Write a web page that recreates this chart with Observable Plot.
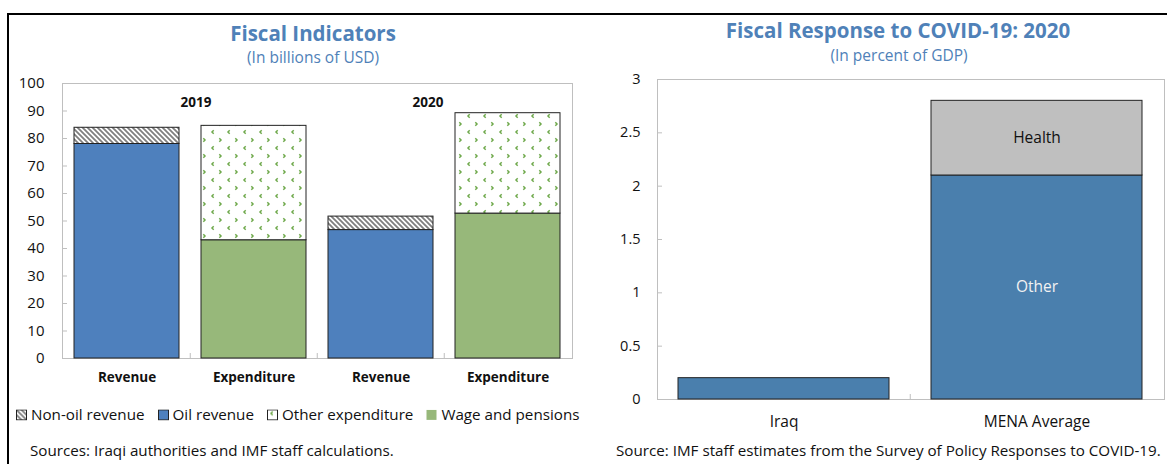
<!DOCTYPE html>
<html>
<head>
<meta charset="utf-8">
<script src="https://cdn.jsdelivr.net/npm/d3@7"></script>
<script src="https://cdn.jsdelivr.net/npm/@observablehq/plot@0.6"></script>
<style>
  body { margin: 0; background: #fff; font-family: "Open Sans", sans-serif; }
  #root { position: relative; width: 1167px; height: 464px; overflow: hidden; background: #fff; }
  .abs { position: absolute; }
  .c { transform: translate(-50%, -50%); white-space: nowrap; line-height: 1; }
  .title { font-weight: 700; color: #4f81b8; font-size: 20.5px; }
  .sub { color: #4f81b8; font-size: 15.5px; }
  .src { font-size: 15.2px; color: #111; white-space: nowrap; line-height: 1; transform: translateY(-50%); }
  .legend { display: flex; align-items: center; font-size: 15.2px; color: #111; white-space: nowrap; line-height: 1; transform: translateY(-50%); }
  .legend span.item { display: inline-flex; align-items: center; margin-right: 13px; }
  .legend svg { margin-right: 4px; }
</style>
</head>
<body>
<div id="root">
  <svg width="0" height="0" style="position:absolute">
    <defs>
      <pattern id="hatch" patternUnits="userSpaceOnUse" width="5" height="5">
        <rect width="5" height="5" fill="#fff"/>
        <path d="M-1,-1 L6,6 M-1,4 L1,6 M4,-1 L6,1" stroke="#7f7f7f" stroke-width="1.8"/>
      </pattern>
      <pattern id="dots" patternUnits="userSpaceOnUse" width="16" height="16">
        <rect width="16" height="16" fill="#fff"/>
        <path d="M5.7,2.3 L4,4 L5.7,5.7" fill="none" stroke="#6fa94c" stroke-width="1.5"/>
        <path d="M11.3,10.3 L13,12 L11.3,13.7" fill="none" stroke="#6fa94c" stroke-width="1.5"/>
      </pattern>
    </defs>
  </svg>
  <div class="abs" style="left:7px;top:13px;width:1160px;height:2px;background:#000"></div>
  <div class="abs" style="left:7px;top:13px;width:2px;height:451px;background:#000"></div>

  <div class="abs c title" style="left:313px;top:33px">Fiscal Indicators</div>
  <div class="abs c sub" style="left:313px;top:58px">(In billions of USD)</div>
  <div id="left" class="abs" style="left:0;top:0"></div>
  <div id="legend" class="abs legend" style="left:16px;top:415px"></div>
  <div class="abs src" style="left:30px;top:451px">Sources: Iraqi authorities and IMF staff calculations.</div>

  <div class="abs c title" style="left:898px;top:30px">Fiscal Response to COVID-19: 2020</div>
  <div class="abs c sub" style="left:899px;top:56px">(In percent of GDP)</div>
  <div id="right" class="abs" style="left:590px;top:0"></div>
  <div class="abs src" style="left:616px;top:451px">Source: IMF staff estimates from the Survey of Policy Responses to COVID-19.</div>
</div>
<script>
// ---------- Left chart data (billions of USD) ----------
const barCategories = ["Revenue 2019", "Expenditure 2019", "Revenue 2020", "Expenditure 2020"];
const years = ["2019", "2020"];
const oilRevenue = [78.0, 46.7];
const nonOilRevenue = [5.9, 4.9];
const wagesPensions = [43.0, 52.7];
const otherExpenditure = [41.6, 36.5];
const leftSeries = ["Non-oil revenue", "Oil revenue", "Other expenditure", "Wage and pensions"];
const leftFills = ["url(#hatch)", "#4e80bd", "url(#dots)", "#97b87a"];
const leftTicks = [0, 10, 20, 30, 40, 50, 60, 70, 80, 90, 100];

// ---------- Right chart data (percent of GDP) ----------
const responseCategories = ["Iraq", "MENA Average"];
const responseSeries = ["Other", "Health"];
const otherResponse = [0.2, 2.1];
const healthResponse = [0, 0.7];
const rightFills = ["#4a7fad", "#bfbfbf"];
const rightTicks = [0, 0.5, 1, 1.5, 2, 2.5, 3];

// Build rows
const leftRows = [];
years.forEach((yr, i) => {
  leftRows.push({cat: "Revenue " + yr, series: "Oil revenue", value: oilRevenue[i]});
  leftRows.push({cat: "Revenue " + yr, series: "Non-oil revenue", value: nonOilRevenue[i]});
  leftRows.push({cat: "Expenditure " + yr, series: "Wage and pensions", value: wagesPensions[i]});
  leftRows.push({cat: "Expenditure " + yr, series: "Other expenditure", value: otherExpenditure[i]});
});

const rightRows = [];
responseCategories.forEach((c, i) => {
  rightRows.push({cat: c, series: "Other", value: otherResponse[i]});
  rightRows.push({cat: c, series: "Health", value: healthResponse[i]});
});

const gridGray = "#bfbfbf";
const font = "Open Sans";

// ---------- Left plot ----------
const LW = 590, LH = 400, LML = 62, LMR = 18, LMT = 83, LMB = 42;
const lStep = (LW - LML - LMR) / barCategories.length;
const leftPlot = Plot.plot({
  width: LW, height: LH,
  marginLeft: LML, marginRight: LMR, marginTop: LMT, marginBottom: LMB,
  style: {fontFamily: font, fontSize: "15px", color: "#111", background: "transparent", overflow: "visible"},
  x: {domain: barCategories, paddingInner: 0.17, paddingOuter: 0.085, axis: null},
  y: {domain: [0, 100], axis: null},
  color: {type: "ordinal", domain: leftSeries, range: leftFills},
  marks: [
    Plot.frame({stroke: gridGray}),
    Plot.ruleY(leftTicks, {stroke: gridGray, insetRight: (LW - LML - LMR) - 5}),
    Plot.ruleX(barCategories.slice(1), {x: d => d, y1: 0, y2: 0, insetTop: -5, dx: -lStep / 2, stroke: gridGray}),
    Plot.barY(leftRows, Plot.stackY({x: "cat", y: "value", z: "series", fill: "series", stroke: "#222", strokeWidth: 1})),
    Plot.axisY({ticks: leftTicks, tickSize: 0, tickPadding: 18, label: null, fontSize: 15}),
    Plot.axisX({tickSize: 0, tickPadding: 14, label: null, fontWeight: "bold", fontSize: 13.5, tickFormat: d => d.split(" ")[0]}),
    Plot.text([years[0]], {x: () => barCategories[1], y: 93, text: d => d, dx: -58, fontWeight: "bold", fontSize: 13.5}),
    Plot.text([years[1]], {x: () => barCategories[3], y: 93, text: d => d, dx: -80, fontWeight: "bold", fontSize: 13.5})
  ]
});
document.getElementById("left").appendChild(leftPlot);

// Legend
const legend = document.getElementById("legend");
leftSeries.forEach((s, i) => {
  const item = document.createElement("span");
  item.className = "item";
  const noBorder = s === "Wage and pensions";
  item.innerHTML = `<svg width="11" height="11"><rect x="0.5" y="0.5" width="10" height="10" fill="${leftFills[i]}" stroke="${noBorder ? "none" : "#222"}"/></svg>${s}`;
  legend.appendChild(item);
});

// ---------- Right plot ----------
const RW = 577, RH = 440, RML = 67, RMR = 3, RMT = 79, RMB = 41;
const rStep = (RW - RML - RMR) / responseCategories.length;
const rightPlot = Plot.plot({
  width: RW, height: RH,
  marginLeft: RML, marginRight: RMR, marginTop: RMT, marginBottom: RMB,
  style: {fontFamily: font, fontSize: "15px", color: "#111", background: "transparent", overflow: "visible"},
  x: {domain: responseCategories, paddingInner: 0.166, paddingOuter: 0.083, axis: null},
  y: {domain: [0, 3], axis: null},
  color: {type: "ordinal", domain: responseSeries, range: rightFills},
  marks: [
    Plot.frame({stroke: gridGray}),
    Plot.ruleY(rightTicks, {stroke: gridGray, insetRight: (RW - RML - RMR) - 5}),
    Plot.ruleX(responseCategories.slice(1), {x: d => d, y1: 0, y2: 0, insetTop: -5, dx: -rStep / 2, stroke: gridGray}),
    Plot.barY(rightRows.filter(d => d.value > 0), Plot.stackY({x: "cat", y: "value", z: "series", fill: "series", stroke: "#222", strokeWidth: 1})),
    Plot.text(rightRows, Plot.stackY({
      filter: d => d.cat === "MENA Average",
      x: "cat", y: "value", z: "series", text: "series",
      fill: d => d.series === "Other" ? "#f2f2f2" : "#111", fontSize: 15.5
    })),
    Plot.axisY({ticks: rightTicks, tickSize: 0, tickPadding: 17, label: null, tickFormat: d => String(d), fontSize: 14.5}),
    Plot.axisX({tickSize: 0, tickPadding: 16, label: null, fontSize: 15.5})
  ]
});
document.getElementById("right").appendChild(rightPlot);
</script>
</body>
</html>
